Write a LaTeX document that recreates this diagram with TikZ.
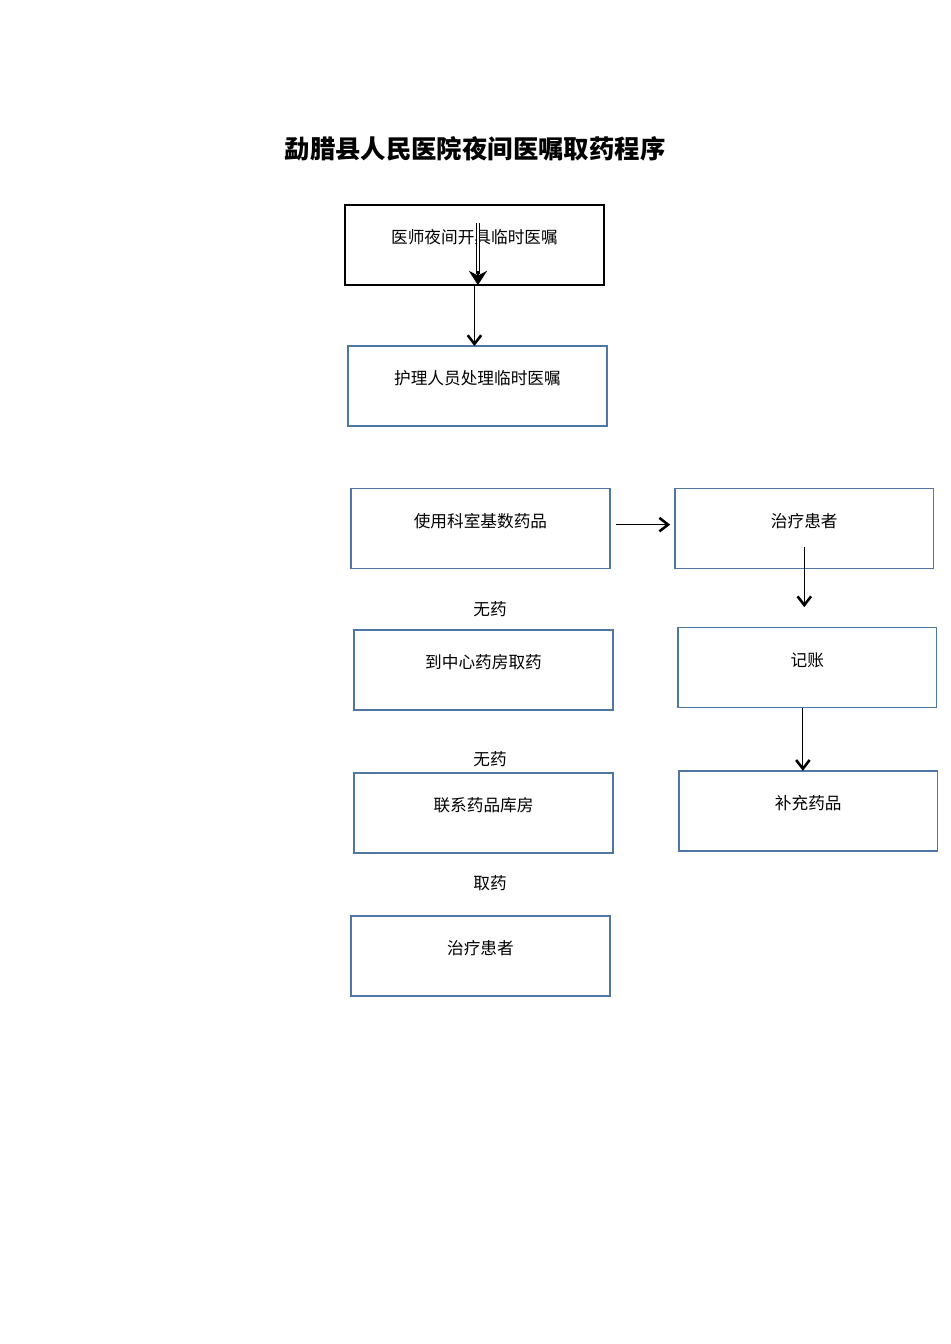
\documentclass[tikz,border=0pt]{standalone}
\usepackage{fontspec}
\setmainfont{Noto Sans CJK SC}
\usetikzlibrary{arrows.meta,positioning}
\definecolor{boxblue}{RGB}{79,119,166}

\begin{document}
\begin{tikzpicture}[
    node distance=39pt and 41pt,
    every node/.style={font=\fontsize{10.5}{12}\selectfont},
    ordbox/.style={rectangle, draw=black, line width=1pt, minimum width=163pt, minimum height=50.4pt, inner sep=0pt, outer sep=0pt, text height=8pt, text depth=10pt},
    medbox/.style={ordbox, draw=boxblue},
    note/.style={inner sep=0pt},
    barb/.style={-{Straight Barb[length=5.5pt,width=8.5pt,line width=1.6pt]}, line width=0.5pt}
]
\useasboundingbox (0,0) rectangle (598.5pt,-846.7pt);

\node[font=\fontsize{16}{19}\selectfont\bfseries] (title) at (299.3pt,-93.9pt) {勐腊县人民医院夜间医嘱取药程序};

% left column
\node[ordbox] (order) at (298.9pt,-154.4pt) {医师夜间开具临时医嘱};
\node[medbox, below=38.4pt of order, xshift=1.9pt] (nurse) {护理人员处理临时医嘱};
\node[medbox, below=39.4pt of nurse, xshift=1.9pt] (ward) {使用科室基数药品};
\node[medbox, below=38.6pt of ward, xshift=1.9pt] (central) {到中心药房取药};
\node[medbox, below=39.8pt of central] (store) {联系药品库房};
\node[medbox, below=39.8pt of store, xshift=-1.9pt] (treatB) {治疗患者};

% right column
\node[medbox, right=41pt of ward] (treatA) {治疗患者};
\node[medbox, below=37.2pt of treatA, xshift=1.9pt] (billing) {记账};
\node[medbox, below=39.8pt of billing, xshift=0.6pt] (replenish) {补充药品};

% labels
\node[note, above=8pt of central, xshift=4.1pt] (nodrugA) {无药};
\node[note, above=3.5pt of store, xshift=4.1pt] (nodrugB) {无药};
\node[note, above=15.5pt of treatB, xshift=6pt] (fetch) {取药};

% arrows
\coordinate (dtop) at ([xshift=2.2pt,yshift=13.9pt]order.center);
\coordinate (dtip) at ([xshift=2.2pt]order.south);
\draw[double, double distance=1.6pt, line width=0.7pt, shorten >=7pt] (dtop) -- (dtip);
\draw[line width=0.7pt, -{Stealth[length=9pt,width=11.5pt,inset=3pt]}] ([yshift=9pt]dtip) -- (dtip);
\draw[barb] (order.south) -- (order.south |- nurse.north);
\draw[barb] ([xshift=3.8pt,yshift=2.5pt]ward.east) -- ([xshift=-3pt,yshift=2.5pt]treatA.west);
\draw[barb] ([yshift=-11.7pt]treatA.center) -- ++(0,-37.8pt);
\coordinate (bill) at ([xshift=-2.8pt]billing.south);
\draw[barb] (bill) -- (bill |- replenish.north);

\end{tikzpicture}
\end{document}
